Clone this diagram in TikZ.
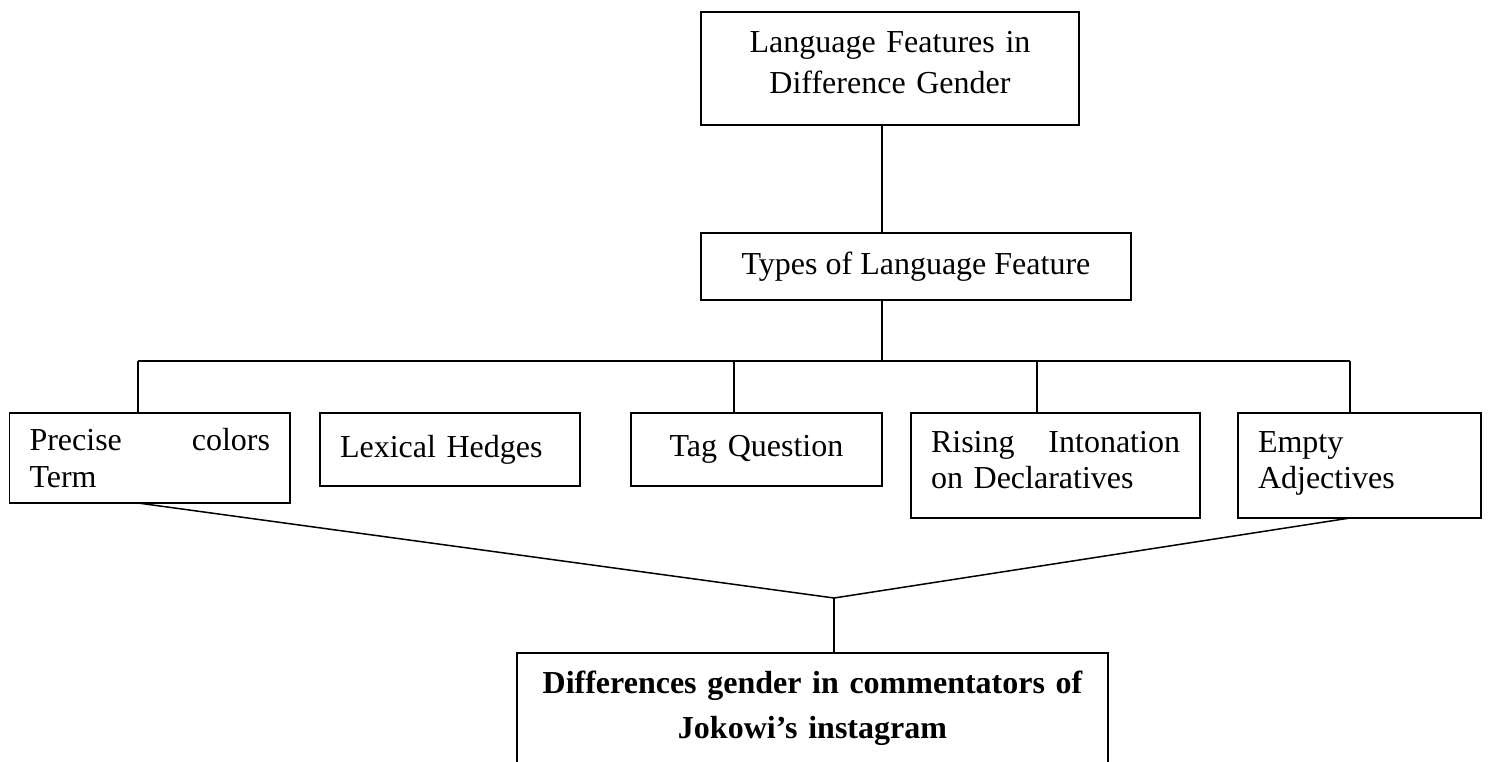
\documentclass[tikz,border=0pt]{standalone}
\usepackage{fontspec}
\setmainfont{Liberation Serif}
\usepackage{tikz}
\usetikzlibrary{positioning, calc}

\begin{document}
\begin{tikzpicture}[x=1pt, y=-1pt,
    box/.style={draw, line width=1.8pt, outer sep=0pt, inner sep=0pt, anchor=north west},
    leftbox/.style={box, align=left, inner xsep=20pt, font=\fontsize{32}{36.8}\selectfont},
    link/.style={line width=1.5pt}]
    \useasboundingbox (0,0) rectangle (1489,761);
    \clip (0,0) rectangle (1489,761);

    % Top of the tree
    \node[box, minimum width=378pt, minimum height=113pt, text width=338pt, align=center, font=\fontsize{32}{41.5}\selectfont] (gender) at (701,12) {Language Features in\\Difference Gender\strut};
    \node[box, minimum width=430pt, minimum height=67pt, font=\fontsize{32}{36.8}\selectfont] (types) at (701,233) {Types of Language Feature};

    % Feature boxes
    \node[leftbox, minimum width=280.5pt, minimum height=90pt, text width=240.5pt] (precise) at (9.5,413) {Precise \hfill colors\\Term};
    \node[leftbox, minimum width=260pt, minimum height=73pt, text width=220pt] (hedges) at (320,413) {Lexical Hedges};
    \node[box, minimum width=251pt, minimum height=73pt, text width=211pt, align=center, font=\fontsize{32}{36.8}\selectfont] (tagq) at (631,413) {Tag Question};
    \node[leftbox, minimum width=289pt, minimum height=105pt, text width=249pt] (rising) at (911,413) {Rising \hfill Intonation\\on Declaratives\strut};
    \node[leftbox, minimum width=243pt, minimum height=105pt, text width=203pt] (empty) at (1238,413) {Empty\\Adjectives\strut};

    % Result (runs off the page)
    \node[box, minimum width=591pt, minimum height=117pt, text width=551pt, align=center, font=\bfseries\fontsize{32}{45}\selectfont] (result) at (517,653) {Differences gender in commentators of\\Jokowi's instagram\strut};

    % Bus and drops
    \coordinate (hub) at (882,361);
    \coordinate (dprecise) at (138,361);
    \coordinate (dtagq) at (734,361);
    \coordinate (drising) at (1037,361);
    \coordinate (dempty) at (1350,361);
    \draw[link] (gender.south -| hub) -- (types.north -| hub);
    \draw[link] (types.south -| hub) -- (hub);
    \draw[link] (dprecise) -- (dempty);
    \foreach \f in {precise, tagq, rising, empty}
        \draw[link] (d\f) -- (\f.north -| d\f);

    % Funnel to the result
    \coordinate (join) at (834,598);
    \draw[link] (precise.south -| dprecise) -- (join) -- (empty.south -| dempty);
    \draw[link] (join) -- (result.north -| join);
\end{tikzpicture}
\end{document}
